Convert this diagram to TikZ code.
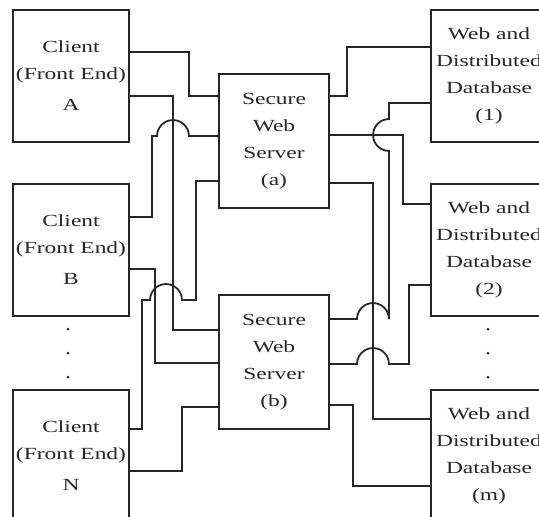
\documentclass[tikz,border=0pt]{standalone}
\usepackage{fontspec}
\newfontfamily\boxfont[FakeStretch = 1.38]{Liberation Serif}
\usepackage{tikz}

\begin{document}
\begin{tikzpicture}[x = 1pt, y = -1pt, line width = 1.4pt, color = black!85,
	box/.style = {draw, align = center, inner sep = 0pt, font = \boxfont\fontsize{17}{27}\selectfont, minimum width = 116pt, minimum height = 132pt},
	server/.style = {box, minimum width = 110pt, minimum height = 134pt},
	hopline/.style = {line width = 1.8pt}]
	\useasboundingbox (0,0) rectangle (539,517);
	\clip (0,0) rectangle (539,517);
	% clients
	\node[box] (cA) at (71,76) {Client\\(Front End)\\[4pt]A};
	\node[box] (cB) at (71,250) {Client\\(Front End)\\[4pt]B};
	\node[box] (cN) at (71,456) {Client\\(Front End)\\[4pt]N};
	% servers
	\node[server, line width = 1.9pt] (sa) at (274,141) {Secure\\Web\\Server\\(a)};
	\node[server] (sb) at (274,362) {Secure\\Web\\Server\\(b)};
	% databases
	\node[box] (db1) at (489,76) {Web and\\Distributed\\Database\\(1)};
	\node[box] (db2) at (489,250) {Web and\\Distributed\\Database\\(2)};
	\node[box] (dbm) at (489,456) {Web and\\Distributed\\Database\\(m)};
	\foreach \y in {329,353,377} {
		\fill (68,\y) circle[radius = 1.5pt];
		\fill (488,\y) circle[radius = 1.5pt];
	}
	% clients to servers
	\draw (cA.east |- 0,52) -| (189,96) -- (sa.west |- 0,96);
	\draw (cA.east |- 0,96) -| (173,330) -- (sb.west |- 0,330);
	\draw[hopline] (cB.east |- 0,217) -| (152,136) -- plot[domain = 180:0, samples = 13] ({173 + 16*cos(\x)}, {136 - 16*sin(\x)}) -- (sa.west |- 0,136);
	\draw[hopline] (sa.west |- 0,181) -| (196,300) -- plot[domain = 0:180, samples = 13] ({166 + 16*cos(\x)}, {300 - 16*sin(\x)}) -- (142,300) |- (cN.east |- 0,429);
	\draw (cB.east |- 0,269) -| (155,363) -- (sb.west |- 0,363);
	\draw (cN.east |- 0,471) -| (182,407) -- (sb.west |- 0,407);
	% servers to databases
	\draw (sa.east |- 0,96) -| (347,47) -- (db1.west |- 0,47);
	\draw (sa.east |- 0,135) -| (403,204) -- (db2.west |- 0,204);
	\draw (sa.east |- 0,183) -| (373,419) -- (dbm.west |- 0,419);
	\draw[hopline] (sb.east |- 0,319) -- plot[domain = 180:0, samples = 13] ({373 + 16*cos(\x)}, {319 - 16*sin(\x)}) -- plot[domain = 270:90, samples = 13] ({389 + 16*cos(\x)}, {135 - 16*sin(\x)}) |- (db1.west |- 0,103);
	\draw[hopline] (sb.east |- 0,364) -- plot[domain = 180:0, samples = 13] ({373 + 16*cos(\x)}, {364 - 16*sin(\x)}) -| (409,285) -- (db2.west |- 0,285);
	\draw (sb.east |- 0,405) -| (353,486) -- (dbm.west |- 0,486);
\end{tikzpicture}
\end{document}
